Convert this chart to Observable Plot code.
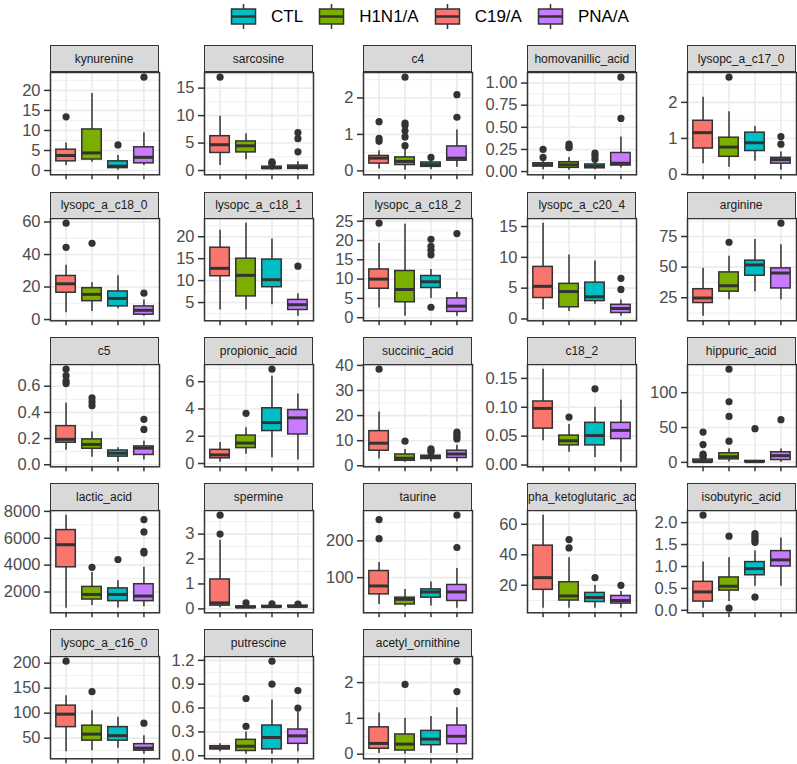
<!DOCTYPE html>
<html><head><meta charset="utf-8">
<script src="https://cdn.jsdelivr.net/npm/d3@7"></script>
<script src="https://cdn.jsdelivr.net/npm/@observablehq/plot@0.6"></script>
<style>
body{margin:0;background:#fff;}
#chart{position:relative;width:797px;height:764px;font-family:"Liberation Sans",Arial,sans-serif;overflow:hidden;background:#fff}
.strip{position:absolute;box-sizing:border-box;background:#D9D9D9;border:1.5px solid #333;color:#1A1A1A;font-size:12px;display:flex;align-items:center;justify-content:center;overflow:hidden;white-space:nowrap}
.panel{position:absolute}
.legend{position:absolute;left:230px;top:3px;height:27px;display:flex;align-items:center;font-size:17px;color:#000}
.legend .item{display:flex;align-items:center;margin-right:15px}
.legend .lab{margin-left:14px}
</style></head><body><div id="chart"></div><script>
// ---- data ----
const metabolites = ["kynurenine","sarcosine","c4","homovanillic_acid","lysopc_a_c17_0",
  "lysopc_a_c18_0","lysopc_a_c18_1","lysopc_a_c18_2","lysopc_a_c20_4","arginine",
  "c5","propionic_acid","succinic_acid","c18_2","hippuric_acid",
  "lactic_acid","spermine","taurine","alpha_ketoglutaric_acid","isobutyric_acid",
  "lysopc_a_c16_0","putrescine","acetyl_ornithine"];
// x order inside each panel
const groupOrder = ["C19/A","H1N1/A","CTL","PNA/A"];
const legendOrder = ["CTL","H1N1/A","C19/A","PNA/A"];
const groupColors = ["#F8766D","#7CAE00","#00BFC4","#C77CFF"];

const whiskerLow = [
  [1.25,2.1,0.1,1.25],[0.9,1.95,0.07,0.07],[0.05,0.02,0.03,0.1],[0.02,0.016,0.02,0.04],[0.3,0.2,0.37,0.12],
  [4.2,5,6.7,2.1],[3.3,3.3,4.5,1.9],[2.5,0.4,5,0.4],[1.5,1.2,2.4,0.46],[10,23.4,30,23.4],
  [0.11,0.057,0.02,0.036],[0.1,0.68,0.43,0.25],[2.7,1.45,1.5,1.5],[0.042,0.022,0.013,0.005],[0.3,0.5,0.3,0.3],
  [800,1000,810,900],[0.05,0.03,0.05,0.06],[27,21,23,17],[5,5,5,5],[0.05,0.2,0.55,0.55],
  [23,25,30,18],[0.05,0.02,0.02,0.05],[0.02,0,0.02,0.02]];
const lowerQuartile = [
  [2.3,2.75,0.6,1.8],[3.2,3.3,0.3,0.3],[0.2,0.16,0.11,0.28],[0.057,0.042,0.037,0.068],[0.72,0.49,0.65,0.3],
  [16.5,11.3,8.1,3.0],[11,6.4,8.5,3.3],[7.5,4,7.7,1.5],[3.4,1.9,2.9,0.97],[20.7,30,43,32.6],
  [0.168,0.122,0.062,0.075],[0.38,1.13,2.38,2.13],[6,2,2.7,3.1],[0.063,0.034,0.034,0.045],[0.5,4.3,0.4,3.3],
  [3840,1440,1320,1320],[0.13,0.04,0.06,0.07],[54.5,27,45.5,36.5],[17,10,9,8],[0.2,0.45,0.8,1.0],
  [72,45,45,25],[0.08,0.06,0.08,0.15],[0.15,0.1,0.25,0.28]];
const medianValue = [
  [3.75,4.4,1.1,3.3],[4.7,4.5,0.5,0.6],[0.35,0.26,0.17,0.35],[0.076,0.076,0.057,0.094],[1.16,0.76,0.88,0.41],
  [22,15.5,13,5.7],[12.8,11.2,10.2,4.5],[10,7.3,9.3,3],[5.3,4.45,3.6,1.7],[24.8,34.8,51.8,45.2],
  [0.194,0.155,0.088,0.127],[0.63,1.5,3.0,3.35],[9,3,3.3,4.7],[0.098,0.042,0.051,0.06],[1,8.1,1,9.6],
  [5520,1820,1820,1700],[0.24,0.07,0.09,0.1],[77.4,41,61,61],[25,13,12,10],[0.42,0.55,0.95,1.15],
  [98,58,55,30],[0.1,0.12,0.23,0.25],[0.3,0.28,0.42,0.5]];
const upperQuartile = [
  [5.2,10.25,2.3,5.8],[6.25,5.3,0.7,0.9],[0.41,0.37,0.23,0.67],[0.094,0.105,0.08,0.21],[1.49,1.02,1.16,0.46],
  [26.8,19.3,17.3,8.1],[17.5,15,14.8,5.6],[12.5,12.1,10.8,5],[8.45,5.7,5.9,2.3],[32,45.7,55.3,49],
  [0.295,0.194,0.109,0.14],[1.0,2.05,4.05,3.92],[13.8,4.5,4,6],[0.11,0.051,0.073,0.073],[4,13,2,14.5],
  [6610,2380,2270,2580],[1.18,0.1,0.12,0.13],[118,45.5,68,80],[46,22,15,13],[0.65,0.75,1.1,1.35],
  [115,75,72,38],[0.12,0.2,0.38,0.33],[0.75,0.55,0.65,0.8]];
const whiskerHigh = [
  [6.9,19.2,3.75,9.4],[9.9,6.7,1.0,1.6],[0.55,0.62,0.3,1.12],[0.12,0.16,0.12,0.39],[2.14,1.74,1.33,0.62],
  [33.4,22.7,27,12],[21.5,23.1,19.5,7],[19.2,24.2,12.5,6.6],[15.55,10.4,9.4,3.1],[49,58.9,72.5,68.2],
  [0.47,0.25,0.13,0.18],[1.55,2.63,6.4,5.1],[21.4,6.5,4.5,8.2],[0.166,0.07,0.1,0.112],[6,19.3,3,19.3],
  [7720,3460,2830,3840],[2.75,0.15,0.17,0.16],[141,68,88,125],[66,38,20,16],[1.1,1.2,1.35,1.65],
  [135,105,92,55],[0.15,0.3,0.7,0.55],[1.15,1.0,1.05,1.3]];
const outlierValues = [
  [[13.4],[],[6.4],[23.3]],
  [[17.0],[],[1.2,1.4,1.6],[3.4,5.8,6.9]],
  [[0.81,0.89,1.35],[0.69,0.93,1.1,1.25,1.31,2.57],[0.37],[1.47,2.09]],
  [[0.16,0.25],[0.27,0.28,0.31],[0.14,0.18,0.21],[0.6,1.067]],
  [[],[2.70],[],[0.84,1.05]],
  [[44.4,59.3],[46.9],[],[16.2]],
  [[],[],[],[13.3]],
  [[24.5],[],[2.7,16.3,17.5,18.5,20.3],[21.8]],
  [[],[],[],[4.8,6.6]],
  [[],[70.3],[],[85.9]],
  [[0.62,0.64,0.68,0.73],[0.45,0.48,0.51],[],[0.27,0.347]],
  [[],[3.68],[6.92],[]],
  [[38.5],[9.8],[5.5,6.0,6.7],[10.7,11.5,12.5,13.4]],
  [[],[0.083],[0.132],[]],
  [[8,10,12,25.5,43.5],[30.4,66,87,133.8],[48.3],[61.3]],
  [[],[3840],[4420],[4900,5030,6470,7380]],
  [[3.0,3.76],[0.24],[0.2],[0.19]],
  [[206,258],[],[],[182,270]],
  [[],[44.5,50],[25],[20]],
  [[2.17],[0.05,1.69],[0.3,1.55,1.6,1.65,1.7,1.75],[]],
  [[204],[143],[],[80]],
  [[],[0.37,0.72],[0.9,1.19],[0.6,0.82]],
  [[],[1.95],[],[1.75,2.6]]];
const tickLabels = [
  ["0","5","10","15","20"],["0","5","10","15"],["0","1","2"],["0.00","0.25","0.50","0.75","1.00"],["0","1","2"],
  ["0","20","40","60"],["5","10","15","20"],["0","5","10","15","20","25"],["0","5","10","15"],["25","50","75"],
  ["0.0","0.2","0.4","0.6"],["0","2","4","6"],["0","10","20","30","40"],["0.00","0.05","0.10","0.15"],["0","50","100"],
  ["2000","4000","6000","8000"],["0","1","2","3"],["100","200"],["20","40","60"],["0.0","0.5","1.0","1.5","2.0"],
  ["50","100","150","200"],["0.0","0.3","0.6","0.9","1.2"],["0","1","2"]];

// ---- layout ----
const colLeft = [49.5, 204, 363.3, 527.3, 686.7];
const rowTop = [71.7, 218.3, 364, 510, 656];
const PW = 109, PH = 102.3, STRIP = 27.5;
const ML = 56, MR = 3, MT = 3, MB = 9;
const FONT = '"Liberation Sans", Arial, sans-serif';

const chart = document.getElementById("chart");

// legend
const leg = document.createElement("div");
leg.className = "legend";
legendOrder.forEach(g => {
  const it = document.createElement("div"); it.className = "item";
  const col = groupColors[groupOrder.indexOf(g)];
  const svg = d3.create("svg").attr("width", 27).attr("height", 27);
  svg.append("line").attr("x1",13.5).attr("x2",13.5).attr("y1",1).attr("y2",26).attr("stroke","#333").attr("stroke-width",1.5);
  svg.append("rect").attr("x",1.5).attr("y",6).attr("width",24).attr("height",15).attr("fill",col).attr("stroke","#333").attr("stroke-width",1.5);
  svg.append("line").attr("x1",1.5).attr("x2",25.5).attr("y1",13.5).attr("y2",13.5).attr("stroke","#333").attr("stroke-width",2.5);
  it.appendChild(svg.node());
  const lab = document.createElement("span"); lab.className = "lab"; lab.textContent = g;
  it.appendChild(lab);
  leg.appendChild(it);
});
chart.appendChild(leg);

const xs = [1,2,3,4];
metabolites.forEach((name, p) => {
  const c = p % 5, r = Math.floor(p / 5);
  const rows = groupOrder.map((g, i) => ({g, x: i + 1,
    lo: whiskerLow[p][i], q1: lowerQuartile[p][i], med: medianValue[p][i],
    q3: upperQuartile[p][i], hi: whiskerHigh[p][i]}));
  const outs = groupOrder.flatMap((g, i) => outlierValues[p][i].map(v => ({x: i + 1, v})));
  const all = rows.flatMap(d => [d.lo, d.hi]).concat(outs.map(o => o.v));
  const mn = d3.min(all), mx = d3.max(all), pad = (mx - mn) * 0.05;
  const domain = [mn - pad, mx + pad];
  const labs = tickLabels[p];
  const vals = labs.map(Number);
  const labelOf = new Map(vals.map((v, i) => [v, labs[i]]));
  const step = vals[1] - vals[0];
  const inDom = v => v >= domain[0] - 1e-9 && v <= domain[1] + 1e-9;
  const major = vals.filter(inDom);
  const minor = [vals[0] - step / 2, ...vals.map(v => v + step / 2)].filter(inDom);

  const strip = document.createElement("div");
  strip.className = "strip";
  strip.style.left = colLeft[c] + "px";
  strip.style.top = (rowTop[r] - STRIP + 0.75) + "px";
  strip.style.width = PW + "px";
  strip.style.height = STRIP + "px";
  strip.textContent = name;

  const plot = Plot.plot({
    width: ML + PW + MR, height: MT + PH + MB,
    marginLeft: ML, marginRight: MR, marginTop: MT, marginBottom: MB,
    x: {type: "linear", domain: [0.4, 4.6], axis: null},
    y: {type: "linear", domain, axis: null},
    color: {domain: groupOrder, range: groupColors},
    style: {fontFamily: FONT, fontSize: "16.5px", background: "transparent", overflow: "visible"},
    marks: [
      Plot.ruleY(minor, {stroke: "#EBEBEB", strokeWidth: 0.8}),
      Plot.ruleY(major, {stroke: "#EBEBEB", strokeWidth: 1.6}),
      Plot.ruleX(xs, {stroke: "#EBEBEB", strokeWidth: 1.6}),
      Plot.ruleX(rows, {x: "x", y1: "lo", y2: "hi", stroke: "#333", strokeWidth: 1.5}),
      Plot.rect(rows, {x1: d => d.x - 0.375, x2: d => d.x + 0.375, y1: "q1", y2: "q3", fill: "g", stroke: "#333", strokeWidth: 1.5}),
      Plot.ruleY(rows, {y: "med", x1: d => d.x - 0.375, x2: d => d.x + 0.375, stroke: "#333", strokeWidth: 3}),
      Plot.dot(outs, {x: "x", y: "v", r: 3.6, fill: "#333", stroke: null}),
      Plot.frame({stroke: "#333", strokeWidth: 1.5}),
      Plot.axisY(major, {label: null, tickSize: 6, tickPadding: 4, stroke: "#333", fill: "#4D4D4D", strokeWidth: 1.5,
        tickFormat: d => labelOf.get(d), fontSize: 16.5}),
      Plot.axisX(xs, {label: null, tickSize: 5, stroke: "#333", strokeWidth: 1.5, tickFormat: () => ""})
    ]
  });
  plot.classList.add("panel");
  plot.style.left = (colLeft[c] - ML) + "px";
  plot.style.top = (rowTop[r] - MT) + "px";
  chart.appendChild(plot);
  chart.appendChild(strip);
});
</script></body></html>
